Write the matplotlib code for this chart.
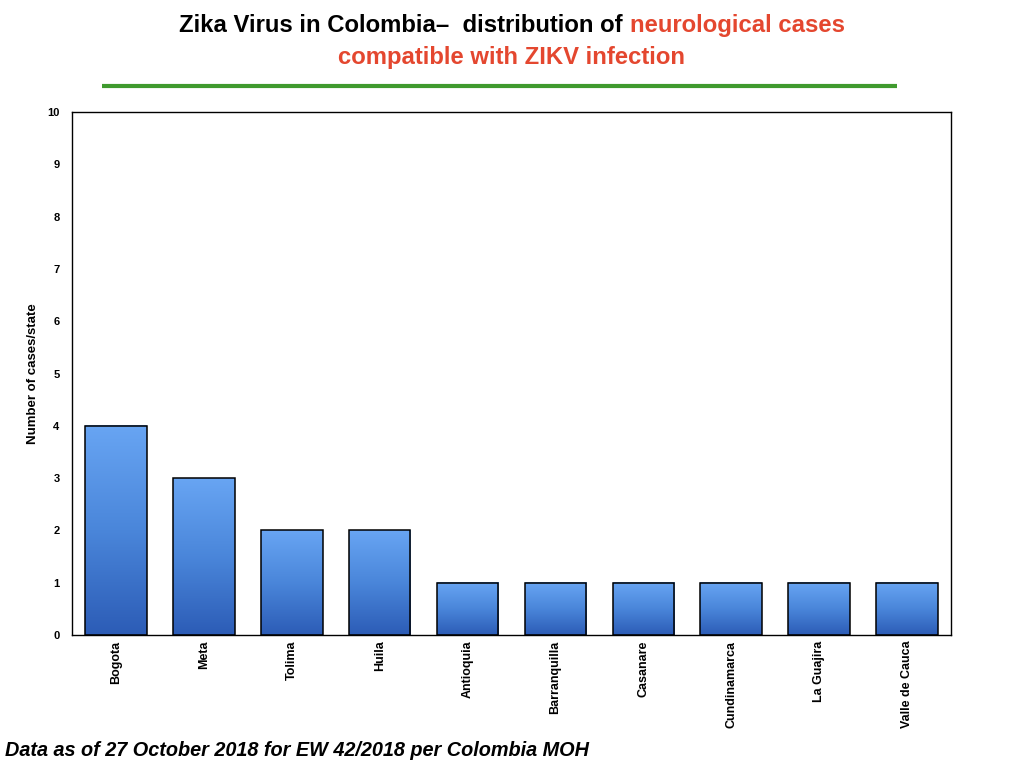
import numpy as np
import matplotlib
matplotlib.use("Agg")
import matplotlib.pyplot as plt
from matplotlib.colors import LinearSegmentedColormap

# Данные
states = ['Bogota', 'Meta', 'Tolima', 'Huila', 'Antioquia', 'Barranquilla',
          'Casanare', 'Cundinamarca', 'La Guajira', 'Valle de Cauca']
cases = [4, 3, 2, 2, 1, 1, 1, 1, 1, 1]
y_ticks = [0, 1, 2, 3, 4, 5, 6, 7, 8, 9, 10]

RED = '#E4472F'
GREEN = '#3F9A2E'
FONT = 'Liberation Sans'

plt.rcParams['font.family'] = FONT

W, H = 1024, 768
fig = plt.figure(figsize=(W / 100, H / 100), dpi=100)
ax = fig.add_axes([72 / W, 1 - 635 / H, (951 - 72) / W, (635 - 112) / H])

# градиент для столбцов
cmap = LinearSegmentedColormap.from_list('bar_grad', ['#2C5CB6', '#4A86DA', '#68A5F3'])
grad = np.linspace(0, 1, 256).reshape(-1, 1)
bar_w = 0.7
x = np.arange(len(states))
for xi, v in zip(x, cases):
    ax.imshow(grad, extent=[xi - bar_w / 2, xi + bar_w / 2, 0, v], origin='lower',
              aspect='auto', cmap=cmap, zorder=2, interpolation='bilinear')
ax.bar(x, cases, width=bar_w, fill=False, edgecolor='black', linewidth=1.1, zorder=3)

ax.set_xlim(-0.5, len(states) - 0.5)
ax.set_ylim(0, 10)
ax.set_yticks(y_ticks)
ax.set_yticklabels([str(t) for t in y_ticks], fontsize=8, fontweight='bold')
ax.set_xticks(x)
ax.set_xticklabels(states, rotation=90, fontsize=9, fontweight='bold', va='top')
ax.tick_params(length=0)
ax.tick_params(axis='y', pad=9)
ax.tick_params(axis='x', pad=4)
ax.set_ylabel('Number of cases/state', fontsize=9.5, fontweight='bold', labelpad=6)
for s in ax.spines.values():
    s.set_linewidth(1.0)

# заголовок из кусков разного цвета
renderer = fig.canvas.get_renderer()
parts = [('Zika Virus in Colombia\u2013  distribution of ', 'black'),
         ('neurological cases', RED)]
tsize = 17.2
texts = [fig.text(0, 0, p, fontsize=tsize, fontweight='bold', color=c, va='baseline')
         for p, c in parts]
widths = [t.get_window_extent(renderer).width for t in texts]
x0 = (512 - sum(widths) / 2) / W
for t, w in zip(texts, widths):
    t.set_position((x0, 1 - 32 / H))
    x0 += w / W
fig.text(512 / W, 1 - 64 / H, 'compatible with ZIKV infection', fontsize=tsize,
         fontweight='bold', color=RED, ha='center', va='baseline')

fig.add_artist(plt.Line2D([102 / W, 897 / W], [1 - 86 / H, 1 - 86 / H],
                          color=GREEN, linewidth=3, solid_capstyle='butt',
                          transform=fig.transFigure))

fig.text(5 / W, 1 - 750 / H, 'Data as of 27 October 2018 for EW 42/2018 per Colombia MOH',
         fontsize=14.3, fontweight='bold', fontstyle='italic', va='center')

fig.savefig('out.png', dpi=100)
plt.close(fig)
